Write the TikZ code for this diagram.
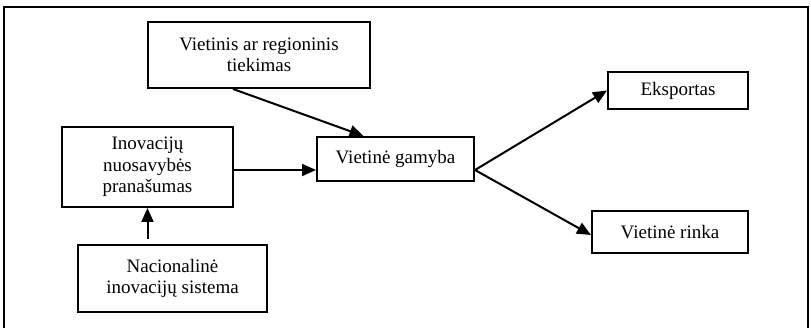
\documentclass[tikz,border=0pt]{standalone}
\usepackage{fontspec}
\setmainfont{Liberation Serif}
\usetikzlibrary{arrows.meta,calc}
\begin{document}
\begin{tikzpicture}[x=1pt,y=-1pt,
  box/.style={draw,line width=2pt,inner sep=0pt,align=center,
    font=\fontsize{19}{21.5}\selectfont},
  arr/.style={line width=2pt,-{Triangle[length=14pt,width=12pt]}},
  frame/.style={line width=1.4pt}]
\useasboundingbox (0,0) rectangle (811,328);
\draw[frame] (4,330) -- (4,7) -- (808,7) -- (808,330);
\node[box,minimum width=222pt,minimum height=66pt] (vt) at (259,55)
  {Vietinis ar regioninis\\tiekimas};
\node[box,minimum width=171pt,minimum height=80pt] (ino) at (147.5,167)
  {Inovacijų\\nuosavybės\\pranašumas};
\node[box,minimum width=189pt,minimum height=67pt] (nac) at (172.5,278.5)
  {Nacionalinė\\inovacijų sistema};
\node[box,minimum width=157pt,minimum height=44pt] (gam) at (395.5,159)
  {Vietinė gamyba};
\node[box,minimum width=140pt,minimum height=37pt] (eks) at (678,90.5)
  {Eksportas};
\node[box,minimum width=156pt,minimum height=42pt] (rin) at (670,232)
  {Vietinė rinka};
\coordinate (gout) at ($(gam.east)+(0,-11pt)$);
\coordinate (nst) at ($(nac.north -| ino.south)+(0,5pt)$);
\draw[arr] ($(vt.south)+(-26pt,0)$) -- ($(gam.north)+(-32pt,0)$);
\draw[arr] ($(ino.east)+(0,-3pt)$) -- ($(ino.east -| gam.west)+(0,-3pt)$);
\draw[arr] (nst) -- (ino.south);
\draw[arr] (gout) -- (eks.west);
\draw[arr] (gout) -- ($(rin.west)+(0,-3pt)$);
\end{tikzpicture}
\end{document}
